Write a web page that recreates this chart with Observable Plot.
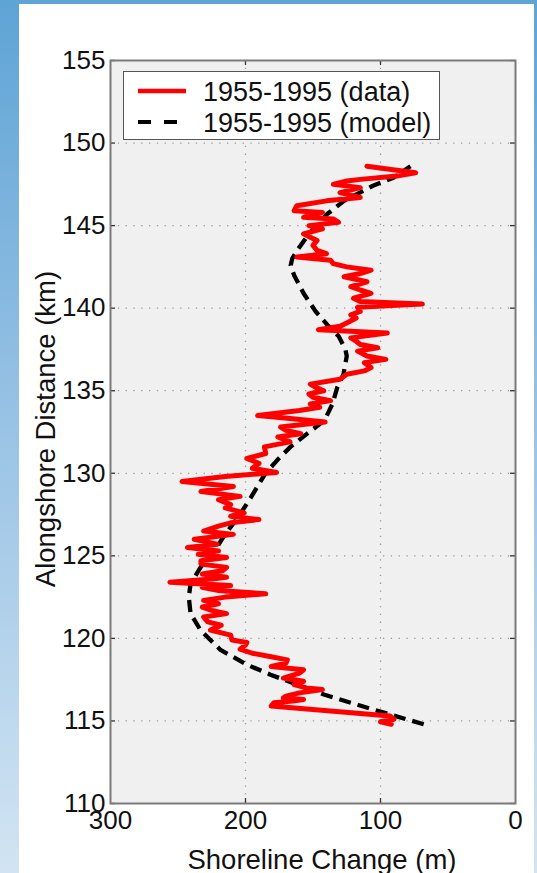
<!DOCTYPE html>
<html>
<head>
<meta charset="utf-8">
<script src="https://cdn.jsdelivr.net/npm/d3@7"></script>
<script src="https://cdn.jsdelivr.net/npm/@observablehq/plot@0.6"></script>
<style>
  html, body { margin: 0; padding: 0; }
  body { width: 537px; height: 873px; overflow: hidden;
         background: linear-gradient(to bottom, #5ea4d5 0%, #8fbde2 40%, #d2e4f3 100%); position: relative;
         font-family: "Liberation Sans", Arial, sans-serif; }
  #panel { position: absolute; left: 19px; top: 4px; width: 515px; height: 869px; background: #fff; }
  #chart { position: absolute; left: 0; top: 0; }
  #legend { position: absolute; left: 123px; top: 71px; width: 317px; height: 69px;
            background: #fff; border: 1.5px solid #555; box-sizing: border-box; }
</style>
</head>
<body>
<div id="panel"></div>
<div id="chart"></div>
<div id="legend"></div>
<script>
// ---- data ----
const seriesNames = ["1955-1995 (data)", "1955-1995 (model)"];
const xTicks = [300, 200, 100, 0];
const yTicks = [110, 115, 120, 125, 130, 135, 140, 145, 150, 155];
const xGrid = [200, 100];
const yGrid = [115, 120, 125, 130, 135, 140, 145, 150];

// measured shoreline change (m) vs alongshore distance (km)
const dataKm = [114.8, 114.95, 115.1, 115.3, 115.9, 116.1, 116.2, 116.3, 116.4, 116.5, 116.7, 116.9, 117.0, 117.2, 117.4, 117.6, 117.9, 118.1, 118.3, 118.5, 118.7, 118.9, 119.1, 119.35, 119.6, 119.75, 119.9, 120.2, 120.5, 120.8, 121.0, 121.3, 121.5, 121.7, 121.9, 122.1, 122.3, 122.5, 122.7, 122.9, 123.1, 123.2, 123.4, 123.6, 123.7, 123.9, 124.1, 124.3, 124.5, 124.7, 124.9, 125.1, 125.3, 125.5, 125.7, 126.0, 126.3, 126.5, 126.8, 127.0, 127.2, 127.4, 127.6, 127.9, 128.1, 128.4, 128.6, 128.9, 129.2, 129.5, 129.8, 130.05, 130.3, 130.6, 130.9, 131.2, 131.6, 131.9, 132.2, 132.4, 132.6, 132.8, 133.1, 133.3, 133.5, 133.8, 134.0, 134.2, 134.4, 134.6, 134.8, 135.0, 135.2, 135.4, 135.7, 136.0, 136.2, 136.4, 136.7, 136.9, 137.1, 137.4, 137.6, 137.8, 138.0, 138.2, 138.5, 138.7, 138.9, 139.1, 139.4, 139.6, 139.8, 140.05, 140.25, 140.4, 140.6, 140.9, 141.1, 141.3, 141.6, 141.9, 142.1, 142.3, 142.5, 142.7, 142.9, 143.1, 143.3, 143.5, 143.8, 144.1, 144.3, 144.5, 144.8, 145.0, 145.2, 145.4, 145.5, 145.8, 145.9, 146.2, 146.5, 146.7, 147.0, 147.3, 147.5, 147.7, 147.8, 148.0, 148.2, 148.6];
const dataChange = [92, 100, 90, 93, 181, 179, 165, 157, 172, 170, 160, 143, 155, 164, 157, 172, 160, 157, 181, 170, 169, 182, 195, 204, 200, 199, 210, 211, 226, 218, 228, 231, 214, 225, 232, 220, 231, 215, 185, 220, 232, 211, 256, 225, 214, 232, 217, 214, 233, 233, 214, 235, 220, 243, 221, 238, 209, 231, 220, 211, 190, 211, 201, 215, 211, 220, 204, 233, 209, 247, 215, 177, 195, 190, 199, 185, 186, 167, 176, 159, 170, 174, 141, 165, 191, 160, 145, 152, 137, 150, 153, 142, 148, 152, 130, 125, 112, 107, 112, 96, 110, 117, 102, 115, 118, 122, 95, 146, 130, 125, 118, 122, 115, 117, 69, 115, 120, 107, 115, 122, 110, 127, 115, 107, 125, 135, 137, 162, 140, 147, 150, 147, 152, 157, 143, 153, 131, 135, 157, 143, 164, 162, 140, 115, 130, 115, 135, 125, 115, 88, 74, 110];

// model shoreline change
const modelKm = [114.8, 115.5, 116.1, 116.6, 117.2, 117.8, 118.4, 119.3, 120.5, 121.5, 122.5, 123.3, 124.3, 125.4, 126.2, 127.4, 128.5, 130.0, 130.9, 131.6, 132.4, 133.2, 134.2, 135.2, 136.0, 137.1, 137.5, 138.3, 139.0, 139.8, 140.9, 142.0, 142.6, 143.0, 143.5, 144.5, 145.7, 146.5, 147.4, 147.9, 148.6];
const modelChange = [68, 97.5, 122, 142, 161.7, 181.5, 198.7, 218.5, 233.3, 240.7, 242, 240.7, 233.3, 222, 216, 205, 196.3, 185.2, 175.3, 166.7, 154.3, 141.5, 135.6, 132, 127.4, 125, 126, 131, 139.5, 148, 157, 164, 166.5, 165.4, 161.7, 153, 139.5, 127, 106, 90.4, 77.8];

const dataRows = dataKm.map((k, i) => ({km: k, change: dataChange[i]}));
const modelRows = modelKm.map((k, i) => ({km: k, change: modelChange[i]}));

const gridStyle = {stroke: "#9a9a9a", strokeOpacity: 1, strokeWidth: 1.3, strokeDasharray: "1.3,6.5"};

const chart = Plot.plot({
  width: 537,
  height: 873,
  marginLeft: 110,
  marginRight: 22,
  marginTop: 60,
  marginBottom: 70,
  style: {background: "transparent", fontFamily: "'Liberation Sans', Arial, sans-serif", color: "#111"},
  x: {domain: [300, 0]},
  y: {domain: [110, 155]},
  marks: [
    Plot.frame({fill: "#f0f0f0", stroke: null}),
    Plot.ruleX(xGrid, {...gridStyle}),
    Plot.ruleY(yGrid, {...gridStyle}),
    // inward ticks
    Plot.ruleX(xGrid, {y1: 110, y2: 110.3, stroke: "#333", strokeWidth: 1.3}),
    Plot.ruleX(xGrid, {y1: 155, y2: 154.7, stroke: "#333", strokeWidth: 1.3}),
    Plot.ruleY(yTicks, {x1: 300, x2: 296.3, stroke: "#333", strokeWidth: 1.3}),
    Plot.ruleY(yTicks, {x1: 0, x2: 3.7, stroke: "#333", strokeWidth: 1.3}),
    Plot.line(modelRows, {x: "change", y: "km", stroke: "#000", strokeWidth: 4.3, strokeDasharray: "12,7", strokeLinecap: "butt"}),
    Plot.line(dataRows, {x: "change", y: "km", stroke: "#ff0000", strokeWidth: 5, strokeLinejoin: "round", strokeLinecap: "round"}),
    Plot.frame({stroke: "#7a7a7a", strokeWidth: 2}),
    Plot.axisX(xTicks, {anchor: "bottom", tickSize: 0, tickPadding: 7, fontSize: 26, label: null}),
    Plot.axisY(yTicks, {anchor: "left", tickSize: 0, tickPadding: 5, fontSize: 26, label: null}),
    Plot.text(["Shoreline Change (m)"], {frameAnchor: "bottom", dy: 65, dx: 9, fontSize: 27.5, lineAnchor: "bottom", fill: "#111"}),
    Plot.text(["Alongshore Distance (km)"], {frameAnchor: "left", textAnchor: "middle", dx: -56, dy: -3, rotate: -90, fontSize: 27.5, lineAnchor: "bottom", fill: "#111"})
  ]
});
document.getElementById("chart").appendChild(chart);

// legend
const leg = document.getElementById("legend");
leg.innerHTML = `
<svg width="315" height="66" style="position:absolute;left:0;top:0;font-family:'Liberation Sans', Arial, sans-serif">
  <line x1="14" x2="62" y1="19" y2="19" stroke="#ff0000" stroke-width="4.6"/>
  <line x1="14" x2="62" y1="50" y2="50" stroke="#000" stroke-width="4.2" stroke-dasharray="13,13"/>
  <text x="79" y="29" font-size="27" fill="#111">${seriesNames[0]}</text>
  <text x="79" y="60" font-size="27" fill="#111">${seriesNames[1]}</text>
</svg>`;
</script>
</body>
</html>
